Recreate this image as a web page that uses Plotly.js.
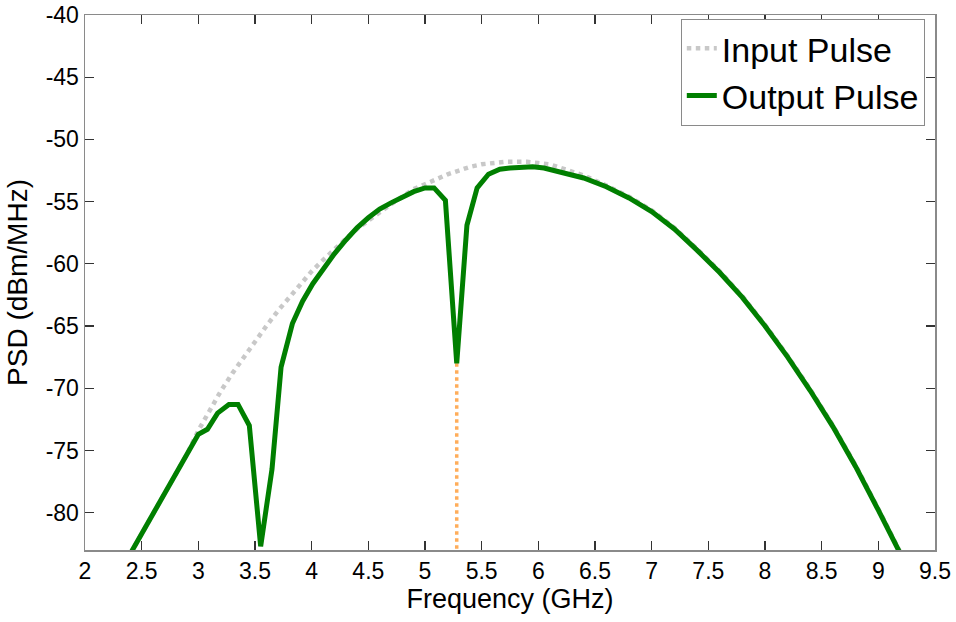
<!DOCTYPE html>
<html>
<head>
<meta charset="utf-8">
<script src="https://cdn.plot.ly/plotly-3.0.1.min.js"></script>
<style>
html,body{margin:0;padding:0;background:#fff;}
#chart{width:956px;height:622px;}
</style>
</head>
<body>
<div id="chart"></div>
<script>
// Output pulse (green)
const outFreq = [2.4, 2.5, 2.6, 2.7, 2.8, 2.9, 3.0, 3.08, 3.17, 3.27, 3.35, 3.45, 3.55, 3.65, 3.73, 3.83, 3.92, 4.01, 4.1, 4.2, 4.3, 4.4, 4.5, 4.6, 4.7, 4.8, 4.9, 5.0, 5.08, 5.18, 5.28, 5.37, 5.46, 5.56, 5.66, 5.75, 5.85, 5.95, 6.05, 6.2, 6.4, 6.6, 6.8, 7.0, 7.2, 7.4, 7.6, 7.8, 8.0, 8.2, 8.4, 8.6, 8.8, 9.0, 9.2];
const outPSD = [-83.3, -81.7, -80.1, -78.5, -76.9, -75.3, -73.7, -73.3, -72.0, -71.3, -71.3, -73.0, -82.7, -76.5, -68.3, -64.8, -63.0, -61.6, -60.4, -59.2, -58.1, -57.1, -56.3, -55.6, -55.1, -54.6, -54.2, -53.9, -53.9, -54.9, -68.0, -56.9, -53.9, -52.8, -52.4, -52.3, -52.2, -52.2, -52.3, -52.6, -53.1, -53.8, -54.7, -55.8, -57.2, -58.9, -60.7, -62.7, -65.0, -67.5, -70.2, -73.1, -76.3, -79.8, -83.4];

// Input pulse (grey dotted)
const inFreq = [2.4, 2.5, 2.6, 2.7, 2.8, 2.9, 3.0, 3.1, 3.2, 3.3, 3.4, 3.5, 3.6, 3.7, 3.8, 3.9, 4.0, 4.1, 4.2, 4.3, 4.4, 4.5, 4.6, 4.7, 4.8, 4.9, 5.0, 5.1, 5.2, 5.3, 5.4, 5.5, 5.6, 5.7, 5.8, 5.9, 6.0, 6.1, 6.2, 6.4, 6.6, 6.8, 7.0, 7.2, 7.4, 7.6, 7.8, 8.0, 8.2, 8.4, 8.6, 8.8, 9.0, 9.2];
const inPSD = [-83.3, -81.7, -80.1, -78.5, -76.9, -75.3, -73.4, -71.8, -70.2, -68.8, -67.5, -66.2, -65.0, -63.8, -62.7, -61.6, -60.6, -59.7, -58.8, -58.0, -57.2, -56.5, -55.8, -55.2, -54.6, -54.0, -53.6, -53.2, -52.8, -52.5, -52.2, -52.0, -51.9, -51.8, -51.8, -51.8, -51.9, -52.0, -52.3, -52.9, -53.7, -54.6, -55.7, -57.1, -58.8, -60.6, -62.6, -64.9, -67.4, -70.1, -73.0, -76.2, -79.7, -83.3];

// Notch marker (orange dotted vertical)
const notchFreq = [5.28, 5.28];
const notchPSD = [-68.0, -84];

const xTickVals = [2, 2.5, 3, 3.5, 4, 4.5, 5, 5.5, 6, 6.5, 7, 7.5, 8, 8.5, 9, 9.5];
const xTickText = ['2', '2.5', '3', '3.5', '4', '4.5', '5', '5.5', '6', '6.5', '7', '7.5', '8', '8.5', '9', '9.5'];
const yTickVals = [-80, -75, -70, -65, -60, -55, -50, -45, -40];
const yTickText = ['-80', '-75', '-70', '-65', '-60', '-55', '-50', '-45', '-40'];

const FONT = '"Liberation Sans", Arial, sans-serif';

const traces = [
  {x: inFreq, y: inPSD, mode: 'lines', name: 'Input Pulse',
   line: {color: '#c8c8c8', width: 4.5, dash: 'dot'}},
  {x: notchFreq, y: notchPSD, mode: 'lines', showlegend: false,
   line: {color: '#ffad5a', width: 3.5, dash: 'dot'}},
  {x: outFreq, y: outPSD, mode: 'lines', name: 'Output Pulse',
   line: {color: '#007f00', width: 5}}
];

const axisCommon = {
  showgrid: false, zeroline: false, showline: true, mirror: 'ticks',
  linecolor: '#8a8a8a', linewidth: 1.5,
  ticks: 'inside', ticklen: 9, tickwidth: 1.2, tickcolor: '#333',
  tickfont: {family: FONT, size: 23, color: '#000'},
  tickmode: 'array', automargin: false
};

const layout = {
  width: 956, height: 622,
  margin: {l: 85, r: 21, t: 15, b: 72},
  paper_bgcolor: '#ffffff', plot_bgcolor: '#ffffff',
  font: {family: FONT, color: '#000'},
  showlegend: true,
  hovermode: false,
  xaxis: Object.assign({}, axisCommon, {
    range: [2, 9.5], tickvals: xTickVals, ticktext: xTickText,
    title: {text: 'Frequency (GHz)', font: {family: FONT, size: 27, color: '#000'}, standoff: 6}
  }),
  yaxis: Object.assign({}, axisCommon, {
    range: [-83, -40], tickvals: yTickVals, ticktext: yTickText,
    title: {text: 'PSD (dBm/MHz)', font: {family: FONT, size: 28, color: '#000'}, standoff: 10}
  }),
  legend: {
    x: 0.988, xanchor: 'right', y: 0.993, yanchor: 'top',
    bgcolor: '#ffffff', bordercolor: '#8a8a8a', borderwidth: 1,
    font: {family: FONT, size: 34, color: '#000'},
    tracegroupgap: 0
  }
};

Plotly.newPlot('chart', traces, layout, {displayModeBar: false, staticPlot: true});
</script>
</body>
</html>
